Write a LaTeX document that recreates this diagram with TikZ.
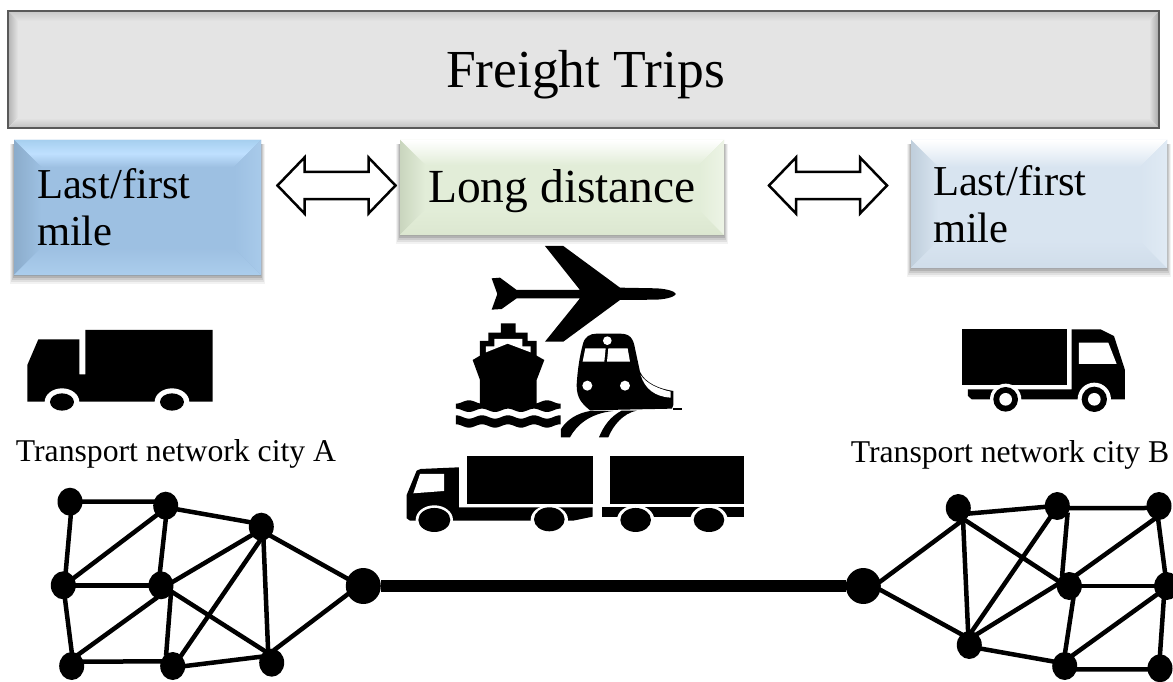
\documentclass[tikz,border=0pt]{standalone}
\usepackage{fontspec}
\setmainfont{Liberation Serif}
\usetikzlibrary{shapes.geometric}
\newcommand{\bevelpaint}[5]{%
  \coordinate (nw) at (path picture bounding box.north west);
  \coordinate (ne) at (path picture bounding box.north east);
  \coordinate (sw) at (path picture bounding box.south west);
  \coordinate (se) at (path picture bounding box.south east);
  \coordinate (inw) at ([shift={(#5,#5)}]nw);
  \coordinate (ine) at ([shift={(-#5,#5)}]ne);
  \coordinate (isw) at ([shift={(#5,-#5)}]sw);
  \coordinate (ise) at ([shift={(-#5,-#5)}]se);
  \fill[#1] (nw) -- (ne) -- (ine) -- (inw) -- cycle;
  \fill[#2] (nw) -- (sw) -- (isw) -- (inw) -- cycle;
  \fill[#3] (sw) -- (se) -- (ise) -- (isw) -- cycle;
  \fill[#4] (ne) -- (se) -- (ise) -- (ine) -- cycle;
}
\newcommand{\softshadow}[4]{%
  \foreach \d/\o in {9/.05,7/.07,5/.09,3/.12,1/.15}{
    \fill[black,opacity=\o] (#1-\d*0.4,#2+4) rectangle (#3+\d*0.4,#4+\d);
  }
}
\newcommand{\fsz}[1]{\fontsize{#1}{47}\selectfont}
\newcommand{\twowayat}[3]{%
  \coordinate (#1) at (#2,#3);
  \begin{scope}[shift={(#2,#3)}]
    \draw[twowaystroke] (-59,0) -- (-32,-28) -- (-32,-13.5) -- (32,-13.5) -- (32,-28) -- (59,0)
      -- (32,28) -- (32,13.5) -- (-32,13.5) -- (-32,28) -- cycle;
  \end{scope}
}
\definecolor{blueB}{HTML}{9DC0E2}
\definecolor{blueT}{HTML}{A6CFEF}
\definecolor{blueM}{HTML}{BFE0FF}
\definecolor{blueL}{HTML}{8BACCB}
\definecolor{blueD}{HTML}{ABCDEC}
\definecolor{blueR}{HTML}{A8CAEA}
\definecolor{greenB}{HTML}{E2EDD8}
\definecolor{greenL}{HTML}{C9D5BE}
\definecolor{greenD}{HTML}{DCE7D0}
\definecolor{greenR}{HTML}{EDF4E6}
\definecolor{paleB}{HTML}{D8E4F0}
\definecolor{paleL}{HTML}{BFCEDB}
\definecolor{paleD}{HTML}{D0DDEA}
\definecolor{paleR}{HTML}{E0EAF4}
\definecolor{greyB}{HTML}{E4E4E4}
\tikzset{
  blockbox/.style={rectangle,inner sep=0pt,outer sep=0pt,anchor=center},
  netnode/.style={ellipse,fill=black,inner sep=0pt,minimum width=25pt,minimum height=28pt},
  hubnode/.style={ellipse,fill=black,inner sep=0pt,minimum width=35pt,minimum height=36pt},
  netedge/.style={line width=4.5pt,black,shorten <=-2pt,shorten >=-2pt},
  trunk/.style={line width=12.5pt,black},
  twowaystroke/.style={draw=black,line width=2.5pt,fill=white,miter limit=10},
  caption/.style={anchor=base,inner sep=0pt,font=\fsz{31.7}},
  icon/.style={x=0.3333pt,y=-0.3333pt}
}
\begin{document}
\begin{tikzpicture}[x=1pt,y=-1pt]
\useasboundingbox (0,0) rectangle (1173,682);
\clip (0,0) rectangle (1173,682);
\fill[white] (0,0) rectangle (1173,682);
% shadows
\softshadow{14}{140}{261}{275}
\softshadow{400}{140}{724}{235}
\softshadow{911}{140}{1167}{268}
% top box
\node[blockbox,draw=black!65,line width=2.5pt,fill=greyB,minimum width=1151pt,minimum height=117pt,
  path picture={\bevelpaint{top color=black!22,bottom color=greyB}{left color=black!30,right color=greyB}{top color=greyB,bottom color=black!25}{left color=greyB,right color=black!35}{10}}]
  (freight) at (583.5,69.5) {\raisebox{-18.5pt}[0pt][0pt]{\hspace*{4pt}\fsz{53.5}Freight Trips}};
% boxes
\node[blockbox,fill=blueB,minimum width=247pt,minimum height=135pt,text width=201pt,align=left,font=\fsz{42.6},
  path picture={\bevelpaint{top color=blueT,bottom color=blueB,middle color=blueM}{left color=blueL,right color=blueB}{top color=blueB,bottom color=blueD}{left color=blueB,right color=blueR}{27}}]
  (lastA) at (137.5,207.5) {Last/first\\mile};
\node[blockbox,fill=greenB,minimum width=324pt,minimum height=95pt,
  path picture={\bevelpaint{top color=white,bottom color=greenB}{left color=greenL,right color=greenB}{top color=greenB,bottom color=greenD}{left color=greenB,right color=greenR}{25}}]
  (long) at (562,187.5) {\raisebox{-14.5pt}[0pt][0pt]{\fsz{47.5}Long distance}};
\node[blockbox,fill=paleB,minimum width=256pt,minimum height=128pt,text width=212pt,align=left,font=\fsz{42.6},
  path picture={\bevelpaint{top color=white,bottom color=paleB}{left color=paleL,right color=paleB}{top color=paleB,bottom color=paleD}{left color=paleB,right color=paleR}{27}}]
  (lastB) at (1039,204) {Last/first\\mile};
% two-way arrows
\twowayat{arrowL}{336.5}{185.5}
\twowayat{arrowR}{828}{185.5}
% captions
\node[caption] (capA) at (176,461) {Transport network city A};
\node[caption] (capB) at (1010,462) {Transport network city B};
% plane, ship, train, big truck (zoom frame at 400,235)
\begin{scope}[shift={(400,235)},icon]
  % plane
  \fill (275,130) -- (300,128) -- (350,165) -- (540,165) -- (435,33) -- (490,33) -- (660,158) -- (770,160)
    .. controls (805,162) and (825,170) .. (828,177) .. controls (825,184) and (805,192) .. (770,194)
    -- (660,195) -- (490,320) -- (435,320) -- (540,190) -- (350,190) -- (305,222) -- (275,224) -- (292,177) -- cycle;
  % ship
  \fill (303,265) -- (347,265) -- (347,293) -- (383,293) -- (383,318) -- (410,318) -- (410,362) -- (433,375)
    -- (410,435) -- (410,510) -- (240,510) -- (240,435) -- (218,375) -- (240,362) -- (240,318) -- (265,318) -- (265,293) -- (303,293) -- cycle;
  \fill[white] (258,352) -- (258,334) -- (283,334) -- (283,312) -- (367,312) -- (367,334) -- (392,334) -- (392,352) -- (323,326) -- cycle;
  \fill plot[domain=168:482,samples=70] (\x,{501+5*sin((\x-168)*4.615+90)}) -- plot[domain=482:168,samples=70] (\x,{526+5*sin((\x-168)*4.615+270)}) -- cycle;
  \fill plot[domain=168:482,samples=70] (\x,{546+5*sin((\x-168)*4.615+270)}) -- plot[domain=482:168,samples=70] (\x,{573+5*sin((\x-168)*4.615+270)}) -- cycle;
  % train
  \fill (590,296) -- (660,296) .. controls (690,296) and (700,310) .. (705,340) -- (720,410)
    .. controls (735,445) and (780,462) .. (820,468) -- (820,510) -- (816,521) -- (570,526)
    .. controls (545,505) and (530,490) .. (530,450) .. controls (533,400) and (540,360) .. (548,330)
    .. controls (553,305) and (570,296) .. (590,296) -- cycle;
  \fill[white] (556,340) -- (617,340) -- (613,380) -- (548,380) -- cycle;
  \fill[white] (625,340) -- (683,340) -- (690,380) -- (621,380) -- cycle;
  \fill[white] (622,317) circle[radius=13];
  \fill[white] (562,452) circle[radius=15];
  \fill[white] (675,452) circle[radius=15];
  \fill[white] (722,420) .. controls (738,445) and (775,462) .. (812,470) -- (812,488) .. controls (765,485) and (735,462) .. (722,420) -- cycle;
  \fill (818,520) rectangle (846,526);
  \fill (483,607) -- (510,607) .. controls (530,570) and (570,535) .. (640,528) -- (570,528) .. controls (530,535) and (500,555) .. (483,582) -- cycle;
  \fill (597,607) -- (625,607) .. controls (640,570) and (670,535) .. (710,527) -- (665,527) .. controls (630,545) and (610,575) .. (597,607) -- cycle;
  % road train
  \fill (20,780) -- (50,707) -- (62,702) -- (177,697) -- (177,817) -- (578,817) -- (578,845) -- (520,857) -- (30,857) -- (20,850) -- cycle;
  \fill (605,817) rectangle (1033,845);
  \fill[white] (40,775) -- (60,717) -- (132,717) -- (132,768) -- cycle;
  \foreach \wx in {103,448,707,927}{
    \fill[white] (\wx,855) ellipse[x radius=56,y radius=44];
  }
  \fill (103,855) ellipse[x radius=48,y radius=36];
  \fill (448,853) ellipse[x radius=46,y radius=36];
  \fill (707,855) ellipse[x radius=46,y radius=36];
  \fill (927,855) ellipse[x radius=46,y radius=36];
  \fill (202,662) rectangle (578,807);
  \fill (630,662) rectangle (1033,807);
\end{scope}
% delivery truck A (zoom frame at 0,310)
\begin{scope}[shift={(0,310)},icon]
  \fill (82,165) -- (115,88) -- (238,88) -- (238,193) -- (256,193) -- (256,60) -- (638,60) -- (638,275) -- (82,275) -- cycle;
  \fill[white] (186,276) ellipse[x radius=52,y radius=41];
  \fill[white] (516,276) ellipse[x radius=52,y radius=41];
  \fill (186,276) ellipse[x radius=36,y radius=26];
  \fill (516,276) ellipse[x radius=36,y radius=26];
\end{scope}
% delivery truck B (zoom frame at 830,310)
\begin{scope}[shift={(830,310)},icon]
  \fill (396,58) rectangle (710,224);
  \fill (725,58) -- (812,58) -- (852,78) -- (885,180) -- (885,268) -- (725,268) -- (425,268) -- (414,258) -- (414,238) -- (725,238) -- cycle;
  \fill[white] (747,98) -- (835,98) -- (860,162) -- (747,162) -- cycle;
  \fill[white] (527,268) circle[radius=47];
  \fill[white] (793,268) circle[radius=50];
  \fill (527,268) circle[radius=37];
  \fill (793,268) circle[radius=38];
  \fill[white] (527,268) circle[radius=19];
  \fill[white] (793,268) circle[radius=19];
\end{scope}
% network A
\node[netnode] (a1) at (70,501.7) {};
\node[netnode] (a2) at (165.7,505.7) {};
\node[netnode] (a3) at (261.3,526.7) {};
\node[netnode] (a4) at (63.3,585.3) {};
\node[netnode] (a5) at (161,585.3) {};
\node[hubnode] (a6) at (363.3,586) {};
\node[netnode] (a7) at (71.7,666) {};
\node[netnode] (a8) at (172.7,666) {};
\node[netnode] (a9) at (271.7,662.7) {};
\foreach \p/\a/\q/\b in {a1/0/a2/162,a1/-87/a4/80,a2/-17/a3/159,a2/-134/a4/35,a2/-90/a5/94,a3/-139/a5/17,a3/-44/a6/155,a3/-96/a8/51,a3/-81/a9/105,a4/0/a5/180,a4/-83/a7/90,a5/-111/a7/59,a5/-42/a8/118,a5/-31/a9/121,a6/-152/a9/75,a7/20/a8/159,a8/0/a9/153}
  \draw[netedge] (\p.\a) -- (\q.\b);
% network B
\node[netnode] (b1) at (958.3,508) {};
\node[netnode] (b2) at (1057.3,506) {};
\node[netnode] (b3) at (1159,506) {};
\node[hubnode] (b4) at (863.3,586) {};
\node[netnode] (b5) at (1069.3,586) {};
\node[netnode] (b6) at (1166.7,586) {};
\node[netnode] (b7) at (969.3,645) {};
\node[netnode] (b8) at (1064.7,666) {};
\node[netnode] (b9) at (1160,668.3) {};
\foreach \p/\a/\q/\b in {b1/-25/b2/184,b2/-10/b3/189,b1/-82/b4/15,b1/-70/b7/95,b1/-61/b5/155,b2/-122/b7/79,b2/-40/b5/121,b3/-110/b5/56,b3/-93/b6/97,b4/-13/b7/127,b5/175/b7/54,b5/0/b6/180,b5/-74/b8/88,b6/-139/b8/53,b6/-102/b9/90,b7/-17/b8/159,b8/-15/b9/185}
  \draw[netedge] (\p.\a) -- (\q.\b);
\draw[trunk] (a6) -- (b4);
\end{tikzpicture}
\end{document}
